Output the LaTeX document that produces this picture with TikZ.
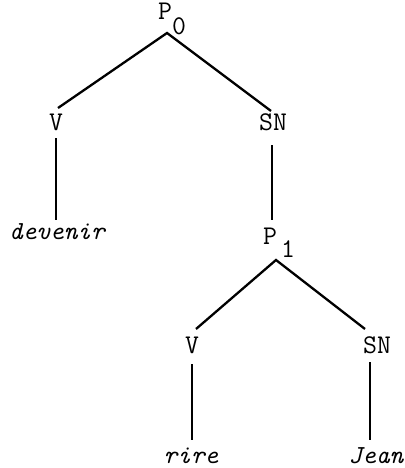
\documentclass[tikz,border=0pt]{standalone}
\usepackage{fontspec}
\begin{document}
\begin{tikzpicture}[x=1pt,y=-1pt,
  lab/.style={font=\ttfamily\fontsize{27}{27}\selectfont, inner sep=0pt, anchor=base},
  word/.style={font=\ttfamily\itshape\fontsize{26}{26}\selectfont, inner sep=0pt, anchor=base},
  br/.style={line width=2.3pt}]
\useasboundingbox (0,0) rectangle (404,468);
% labels
\node[lab] (P0) at (165,20) {P};
\node[lab] (P0s) at (179,35) {0};
\node[lab] (V1) at (56,131) {V};
\node[lab] (SN1) at (273,131) {SN};
\node[word] (w1) at (57,239) {devenir};
\node[lab] (P1) at (270,244) {P};
\node[lab] (P1s) at (288,257) {1};
\node[lab] (V2) at (192,353) {V};
\node[lab] (SN2) at (377,353) {SN};
\node[word] (w2) at (191,463) {rire};
\node[word] (w3) at (376,463) {Jean};
% coordinates
\coordinate (a0) at (167,33);
\coordinate (v1t) at (58,108);
\coordinate (sn1t) at (271,111);
\coordinate (v1a) at (56,138);
\coordinate (v1b) at (56,220);
\coordinate (sn1a) at (272,145);
\coordinate (sn1b) at (272,220);
\coordinate (a1) at (276,260);
\coordinate (v2t) at (196,329);
\coordinate (sn2t) at (365,329);
\coordinate (v2a) at (192,364);
\coordinate (v2b) at (192,440);
\coordinate (sn2a) at (370,362);
\coordinate (sn2b) at (370,440);
% branches
\draw[br] (v1t) -- (a0) -- (sn1t);
\draw[br] (v1a) -- (v1b);
\draw[br] (sn1a) -- (sn1b);
\draw[br] (v2t) -- (a1) -- (sn2t);
\draw[br] (v2a) -- (v2b);
\draw[br] (sn2a) -- (sn2b);
\end{tikzpicture}
\end{document}
